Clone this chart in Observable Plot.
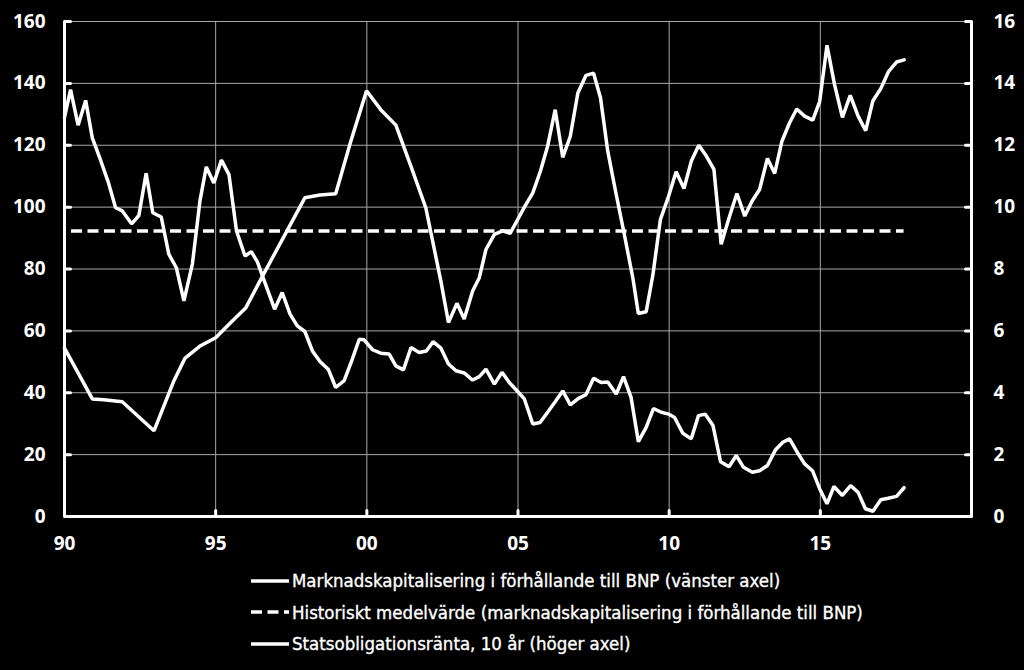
<!DOCTYPE html>
<html><head><meta charset="utf-8">
<script src="https://cdn.jsdelivr.net/npm/d3@7"></script>
<script src="https://cdn.jsdelivr.net/npm/@observablehq/plot@0.6"></script>
<style>
html,body{margin:0;padding:0;background:#000;}
body{width:1024px;height:670px;overflow:hidden;}
#chart svg{display:block;}
#legend{margin-left:251px;color:#fff;font-family:"Liberation Sans Narrow","DejaVu Sans Condensed","Open Sans",sans-serif;font-size:18.5px;-webkit-text-stroke:0.35px #fff;}
.row{height:31.5px;display:flex;align-items:center;white-space:nowrap;}
.row svg{width:41px;height:8px;flex:none;}
</style></head>
<body>
<div id="chart"></div>
<div id="legend"></div>
<script>
// ---- data ----
const xTicks = [1990, 1995, 2000, 2005, 2010, 2015];
const leftTicks = [0, 20, 40, 60, 80, 100, 120, 140, 160];
const rightTicks = [0, 2, 4, 6, 8, 10, 12, 14, 16];

const mcYears = [1990.0,1990.92,1991.3,1991.91,1992.96,1993.62,1993.98,1994.5,1995.0,1995.5,1996.0,1996.55,1997.95,1998.45,1998.97,1999.47,1999.99,2000.46,2000.96,2001.46,2001.95,2002.45,2002.7,2002.98,2003.22,2003.5,2003.72,2003.94,2004.22,2004.49,2004.74,2004.99,2005.23,2005.49,2005.74,2005.98,2006.23,2006.48,2006.73,2006.98,2007.25,2007.5,2007.73,2007.97,2008.25,2008.52,2008.8,2008.98,2009.24,2009.46,2009.71,2009.98,2010.23,2010.49,2010.73,2010.98,2011.23,2011.48,2011.72,2011.98,2012.24,2012.5,2012.74,2012.99,2013.25,2013.49,2013.73,2013.98,2014.22,2014.48,2014.75,2014.98,2015.22,2015.47,2015.73,2015.99,2016.25,2016.5,2016.74,2017.0,2017.26,2017.52,2017.77];
const mcValues = [54.4,38.0,37.7,37.1,27.7,43.9,51.1,55.2,57.8,62.7,67.5,77.7,103.0,103.9,104.3,121.3,137.6,131.5,126.5,113.2,99.8,76.0,62.7,68.9,63.8,72.9,77.2,86.3,91.2,92.3,91.5,96.0,100.3,104.6,111.6,119.7,131.5,116.1,122.9,136.9,142.6,143.3,135.3,118.0,104.0,91.0,77.0,65.6,66.2,78.0,96.0,103.5,111.4,106.0,114.8,120.0,116.5,112.2,88.0,96.5,104.4,97.1,101.9,105.7,115.7,110.9,121.3,127.2,131.7,129.4,128.1,134.2,152.3,139.6,129.0,136.1,129.4,124.7,134.4,138.3,143.9,146.9,147.6];

const byYears = [1990.0,1990.2,1990.45,1990.7,1990.92,1991.2,1991.45,1991.69,1991.9,1992.22,1992.46,1992.7,1992.92,1993.2,1993.45,1993.7,1993.95,1994.23,1994.48,1994.69,1994.94,1995.19,1995.44,1995.69,1995.97,1996.18,1996.38,1996.55,1996.95,1997.2,1997.46,1997.7,1997.95,1998.2,1998.45,1998.73,1998.97,1999.25,1999.52,1999.75,1999.91,2000.19,2000.46,2000.74,2000.96,2001.21,2001.46,2001.73,2001.97,2002.19,2002.45,2002.7,2002.95,2003.22,2003.5,2003.72,2003.94,2004.22,2004.47,2004.71,2004.99,2005.21,2005.49,2005.73,2005.98,2006.23,2006.48,2006.73,2007.0,2007.25,2007.5,2007.75,2007.97,2008.25,2008.49,2008.74,2008.98,2009.24,2009.48,2009.74,2009.98,2010.18,2010.45,2010.73,2010.97,2011.19,2011.45,2011.7,2011.98,2012.22,2012.46,2012.75,2012.99,2013.25,2013.52,2013.76,2013.98,2014.24,2014.48,2014.74,2014.98,2015.22,2015.45,2015.73,2016.0,2016.25,2016.49,2016.74,2017.0,2017.24,2017.52,2017.77];
const byValues = [12.9,13.8,12.65,13.45,12.24,11.5,10.8,9.98,9.89,9.46,9.73,11.09,9.82,9.68,8.48,8.04,6.97,8.16,10.2,11.3,10.78,11.52,11.05,9.23,8.42,8.56,8.23,7.77,6.7,7.24,6.54,6.16,5.98,5.35,5.01,4.75,4.17,4.39,5.09,5.73,5.71,5.39,5.28,5.25,4.87,4.74,5.46,5.30,5.35,5.65,5.44,4.93,4.71,4.64,4.41,4.52,4.76,4.28,4.66,4.33,4.04,3.80,2.99,3.04,3.37,3.71,4.06,3.61,3.82,3.94,4.47,4.33,4.35,3.96,4.52,3.85,2.42,2.88,3.49,3.37,3.31,3.20,2.69,2.51,3.26,3.31,2.94,1.77,1.61,1.97,1.59,1.43,1.48,1.65,2.16,2.40,2.51,2.07,1.70,1.48,0.89,0.41,0.97,0.68,1.00,0.78,0.25,0.17,0.54,0.59,0.65,0.93];

const meanValue = 92.3;
const meanYears = [1990.0, 2017.77];

const legendLabels = [
  "Marknadskapitalisering i förhållande till BNP (vänster axel)",
  "Historiskt medelvärde (marknadskapitalisering i förhållande till BNP)",
  "Statsobligationsränta, 10 år (höger axel)"
];

// ---- tables ----
const mc = mcYears.map((x, i) => ({x, v: mcValues[i]}));
const by = byYears.map((x, i) => ({x, v: byValues[i]}));
const mean = [{x1: meanYears[0], x2: meanYears[1], y: meanValue}];
const rightRatio = leftTicks[leftTicks.length - 1] / rightTicks[rightTicks.length - 1];

const fmtYear = d => String(d % 100).padStart(2, "0");
const W = "#ffffff";
const stick = {draw(context, l) { context.moveTo(0, 0); context.lineTo(0, -l); }};

const chart = Plot.plot({
  width: 1024,
  height: 565,
  marginTop: 21,
  marginBottom: 49,
  marginLeft: 64,
  marginRight: 53,
  style: {background: "#000", color: "#fff", fontFamily: "'Open Sans', sans-serif", fontSize: "19px", fontWeight: "bold"},
  x: {domain: [1990, 2020]},
  y: {domain: [0, 160]},
  marks: [
    Plot.gridY(leftTicks.slice(1), {stroke: "#a8a8a8", strokeOpacity: 1, strokeWidth: 1}),
    Plot.gridX(xTicks.slice(1), {stroke: "#a8a8a8", strokeOpacity: 1, strokeWidth: 1}),
    Plot.ruleY(mean, {x1: "x1", x2: "x2", y: "y", stroke: W, strokeWidth: 3.5, strokeDasharray: "11,5.5", strokeDashoffset: -7}),
    Plot.line(by, {x: "x", y: d => d.v * rightRatio, stroke: W, strokeWidth: 3.5, strokeLinejoin: "miter"}),
    Plot.line(mc, {x: "x", y: "v", stroke: W, strokeWidth: 3.5, strokeLinejoin: "miter"}),
    // axis lines
    Plot.ruleX([1990], {stroke: W, strokeWidth: 3}),
    Plot.ruleX([2020], {stroke: W, strokeWidth: 3}),
    Plot.ruleY([0], {stroke: W, strokeWidth: 3}),
    // inward tick marks
    Plot.vector(leftTicks, {x: () => 1990, y: d => d, length: 6, rotate: 90, anchor: "start", shape: stick, stroke: W, strokeWidth: 3}),
    Plot.vector(leftTicks, {x: () => 2020, y: d => d, length: 6, rotate: -90, anchor: "start", shape: stick, stroke: W, strokeWidth: 3}),
    Plot.vector(xTicks.slice(1), {x: d => d, y: () => 0, length: 6, rotate: 0, anchor: "start", shape: stick, stroke: W, strokeWidth: 3}),
    // axis labels
    Plot.axisY(leftTicks, {anchor: "left", tickSize: 0, tickPadding: 19, label: null, fill: W}),
    Plot.axisY(leftTicks, {anchor: "right", tickSize: 0, tickPadding: 22, label: null, tickFormat: d => d / rightRatio, textAnchor: "start", fill: W}),
    Plot.axisX(xTicks, {anchor: "bottom", tickSize: 0, tickPadding: 20, label: null, tickFormat: fmtYear, fill: W})
  ]
});
document.getElementById("chart").append(chart);

// ---- legend ----
const legend = d3.select("#legend");
const dashes = [null, "11,5.5", null];
legendLabels.forEach((t, i) => {
  const row = legend.append("div").attr("class", "row");
  const s = row.append("svg").attr("viewBox", "0 0 41 8");
  s.append("line").attr("x1", 0).attr("x2", 38).attr("y1", 4).attr("y2", 4)
    .attr("stroke", "#fff").attr("stroke-width", 3.5)
    .attr("stroke-dasharray", dashes[i]);
  row.append("span").text(t);
});
</script>
</body></html>
